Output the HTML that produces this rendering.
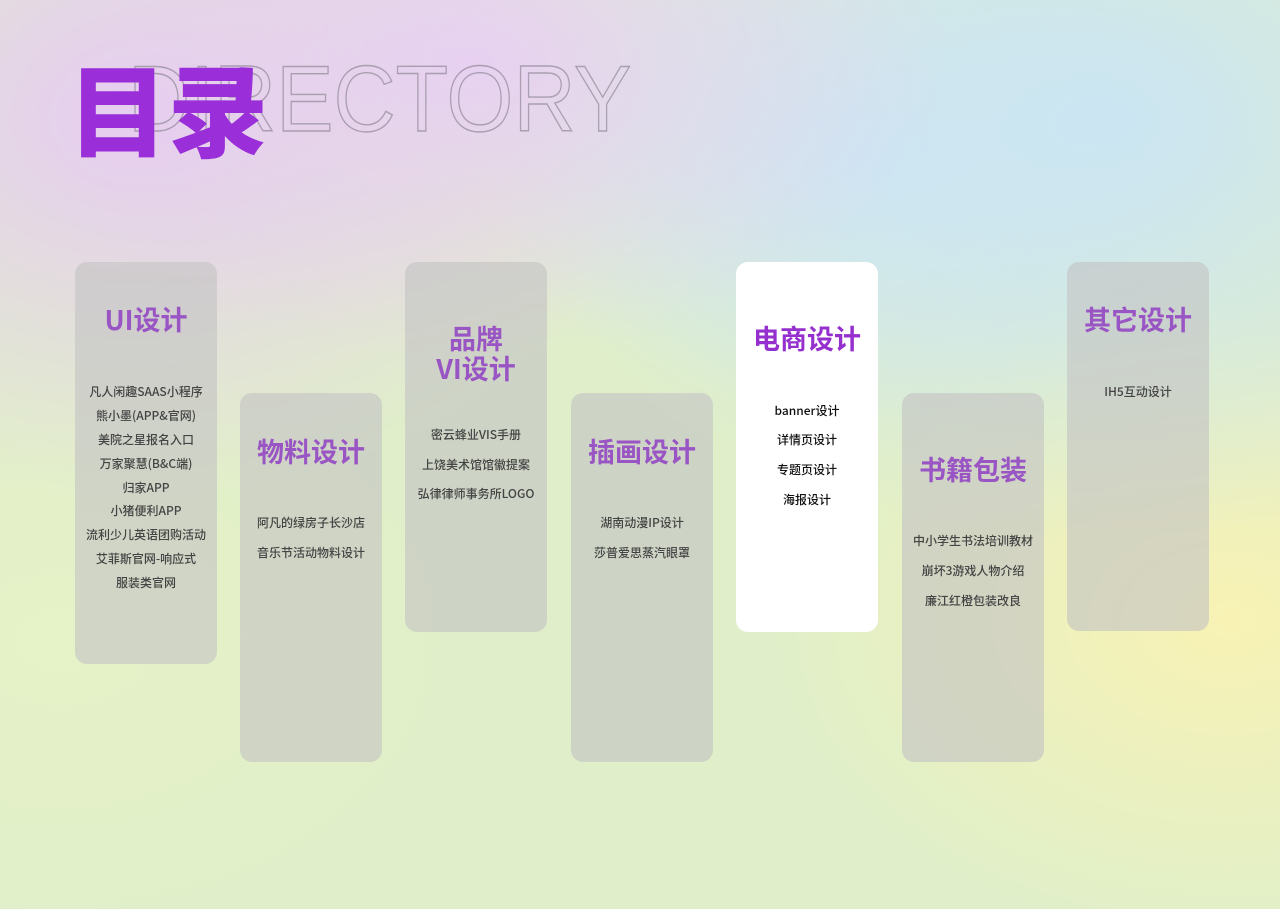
<!DOCTYPE html>
<html><head><meta charset="utf-8"><style>
*{margin:0;padding:0;box-sizing:border-box}
body{width:1280px;height:909px;overflow:hidden;position:relative;font-family:"Liberation Sans","Noto Sans CJK SC",sans-serif;
background:
radial-gradient(ellipse 520px 380px at 130px 120px,#e6cdf0 0%,rgba(230,205,240,0) 100%),
radial-gradient(ellipse 480px 300px at 470px 60px,#e8d2f2 0%,rgba(232,210,242,0) 100%),
radial-gradient(ellipse 620px 420px at 1100px 120px,#cbe5f3 0%,rgba(203,229,243,0) 100%),
radial-gradient(ellipse 400px 260px at 880px 160px,#d0e6f3 0%,rgba(208,230,243,0) 100%),
radial-gradient(ellipse 460px 320px at 1230px 620px,#f8f2b4 0%,rgba(248,242,180,0) 100%),
radial-gradient(ellipse 420px 300px at 60px 640px,#e6f2c8 0%,rgba(230,242,200,0) 100%),
#e0efc9;}
.card{position:absolute;width:142px;border-radius:12px;background:rgba(196,196,196,0.62);text-align:center}
.card.w{background:#fff}
.t{position:absolute;left:0;right:0;color:#9a55c4;font-weight:bold;font-size:27px;line-height:30px;font-family:"Noto Sans CJK SC",sans-serif}
.w .t{color:#9530cf}
.i{position:absolute;left:0;right:0;font-size:12px;color:#444;line-height:14px;font-family:"Noto Sans CJK SC",sans-serif;font-weight:500}
.w .i{color:#111}
</style></head><body>
<div style="position:absolute;z-index:1;left:128px;top:52px;font-size:100px;line-height:100px;color:transparent;-webkit-text-stroke:1.5px rgba(110,105,115,0.5);transform:scaleX(0.86) scaleY(0.94);transform-origin:left top">DIRECTORY</div>
<div style="position:absolute;z-index:2;left:68px;top:46px;font-size:100px;line-height:120px;font-weight:900;color:#9a2fd9;font-family:'Noto Sans CJK SC',sans-serif">目录</div>

<div class="card" style="left:75px;top:262px;height:402px">
<div class="t" style="top:42px">UI设计</div>
<div class="i" style="top:123px">凡人闲趣SAAS小程序</div>
<div class="i" style="top:147px">熊小墨(APP&amp;官网)</div>
<div class="i" style="top:171px">美院之星报名入口</div>
<div class="i" style="top:195px">万家聚慧(B&amp;C端)</div>
<div class="i" style="top:219px">归家APP</div>
<div class="i" style="top:242px">小猪便利APP</div>
<div class="i" style="top:266px">流利少儿英语团购活动</div>
<div class="i" style="top:290px">艾菲斯官网-响应式</div>
<div class="i" style="top:314px">服装类官网</div>
</div>
<div class="card" style="left:240px;top:393px;height:369px">
<div class="t" style="top:43px">物料设计</div>
<div class="i" style="top:123px">阿凡的绿房子长沙店</div>
<div class="i" style="top:153px">音乐节活动物料设计</div>
</div>
<div class="card" style="left:405px;top:262px;height:370px">
<div class="t" style="top:61px">品牌<br>VI设计</div>
<div class="i" style="top:166px">密云蜂业VIS手册</div>
<div class="i" style="top:196px">上饶美术馆馆徽提案</div>
<div class="i" style="top:225px">弘律律师事务所LOGO</div>
</div>
<div class="card" style="left:571px;top:393px;height:369px">
<div class="t" style="top:43px">插画设计</div>
<div class="i" style="top:123px">湖南动漫IP设计</div>
<div class="i" style="top:153px">莎普爱思蒸汽眼罩</div>
</div>
<div class="card w" style="left:736px;top:262px;height:370px">
<div class="t" style="top:61px">电商设计</div>
<div class="i" style="top:142px">banner设计</div>
<div class="i" style="top:171px">详情页设计</div>
<div class="i" style="top:201px">专题页设计</div>
<div class="i" style="top:231px">海报设计</div>
</div>
<div class="card" style="left:902px;top:393px;height:369px">
<div class="t" style="top:61px">书籍包装</div>
<div class="i" style="top:141px">中小学生书法培训教材</div>
<div class="i" style="top:171px">崩坏3游戏人物介绍</div>
<div class="i" style="top:201px">廉江红橙包装改良</div>
</div>
<div class="card" style="left:1067px;top:262px;height:369px">
<div class="t" style="top:42px">其它设计</div>
<div class="i" style="top:123px">IH5互动设计</div>
</div>
</body></html>
